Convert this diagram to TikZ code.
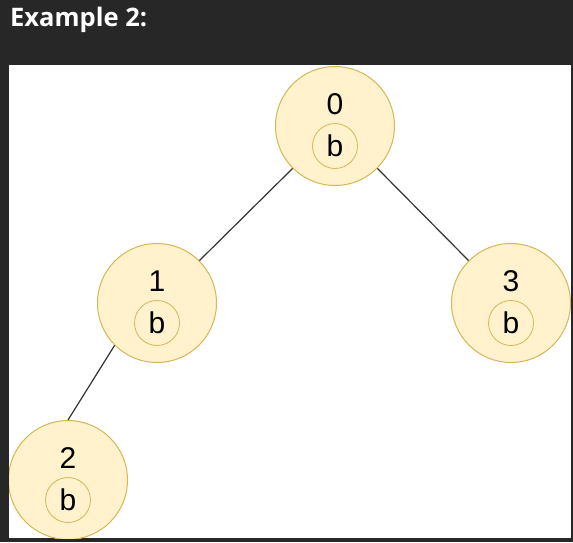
\documentclass[tikz,border=0pt]{standalone}
\usepackage{fontspec}
\setmainfont{Liberation Sans}
\newfontfamily\titlefont{Open Sans}
\usetikzlibrary{calc}

\definecolor{frame}{HTML}{272727}
\definecolor{vfill}{HTML}{FFF2CC}
\definecolor{vline}{HTML}{D6B656}
\definecolor{eline}{HTML}{333333}

\tikzset{
	vertex/.style={circle,draw=vline,fill=vfill,line width=1pt,inner sep=0pt,minimum size=119pt},
	tag/.style={circle,draw=vline,line width=0.8pt,inner sep=0pt,minimum size=45pt,font=\fontsize{30}{30}\selectfont},
	digit/.style={inner sep=0pt,font=\fontsize{30}{30}\selectfont},
	edge/.style={draw=eline,line width=1.2pt}
}

\begin{document}
\begin{tikzpicture}[x=1pt,y=-1pt]

\fill [frame] (0,0) rectangle (573,542);
\fill [white] (9,65) rectangle (571,538);
\node [anchor=base west,inner sep=0pt,text=white,font=\titlefont\bfseries\fontsize{25.5}{25.5}\selectfont] (title) at (10,26) {Example 2:};

\begin{scope}
\clip (9,65) rectangle (571,538);

\foreach \n/\x/\y in {0/335/126,1/157/303,3/511/303,2/68/480} {
	\node [vertex] (n\n) at (\x,\y) {};
	\node [digit] (d\n) at ($(n\n)+(0,-22)$) {\n};
	\node [tag] (b\n) at ($(n\n)+(0,20)$) {b};
}

\draw [edge] (n0.225) -- (n1.45);
\draw [edge] (n0.-45) -- (n3.135);
\draw [edge] (n1.225) -- (n2.90);

\end{scope}

\end{tikzpicture}
\end{document}
